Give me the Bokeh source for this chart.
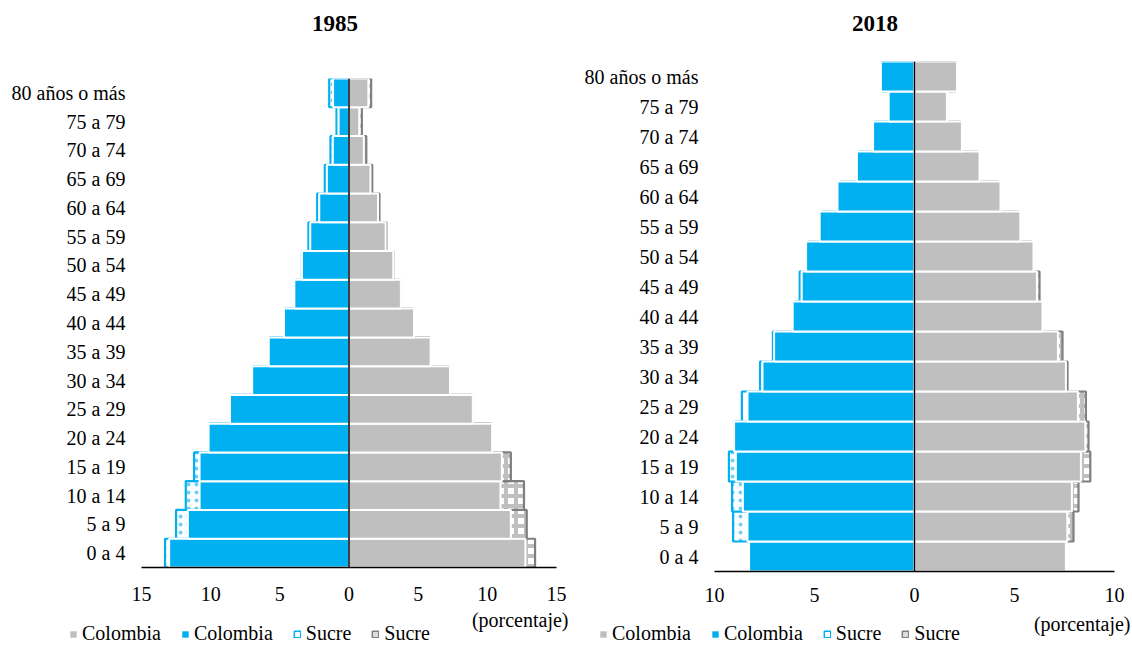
from bokeh.plotting import figure
from bokeh.layouts import row, column
from bokeh.models import (Range1d, FixedTicker, CustomJSTickFormatter, Span, Label,
                          Legend, LegendItem)
from bokeh.embed import file_html
from bokeh.resources import INLINE

age_groups = ["0 a 4", "5 a 9", "10 a 14", "15 a 19", "20 a 24", "25 a 29", "30 a 34",
              "35 a 39", "40 a 44", "45 a 49", "50 a 54", "55 a 59", "60 a 64", "65 a 69",
              "70 a 74", "75 a 79", "80 años o más"]

# 1985 (percent of population)
col_men_1985 = [13.0, 11.65, 10.8, 10.8, 10.15, 8.6, 7.0, 5.8, 4.7, 3.95, 3.4, 2.8, 2.15, 1.6, 1.17, 0.75, 1.15]
col_women_1985 = [12.75, 11.7, 10.95, 11.05, 10.35, 8.95, 7.3, 5.9, 4.7, 3.75, 3.2, 2.65, 2.1, 1.55, 1.07, 0.74, 1.4]
suc_men_1985 = [13.3, 12.5, 11.8, 11.2, 10.1, 8.55, 6.95, 5.75, 4.65, 3.9, 3.4, 2.93, 2.3, 1.75, 1.34, 0.9, 1.43]
suc_women_1985 = [13.45, 12.85, 12.65, 11.7, 10.3, 8.9, 7.25, 5.85, 4.65, 3.7, 3.2, 2.7, 2.2, 1.68, 1.25, 0.93, 1.6]

# 2018 (percent of population)
col_men_2018 = [8.27, 8.35, 8.58, 8.93, 9.02, 8.35, 7.6, 7.02, 6.09, 5.64, 5.42, 4.74, 3.85, 2.88, 2.07, 1.29, 1.68]
col_women_2018 = [7.57, 7.64, 7.87, 8.32, 8.54, 8.17, 7.57, 7.17, 6.4, 6.12, 5.95, 5.29, 4.3, 3.25, 2.37, 1.62, 2.13]
suc_men_2018 = [8.2, 9.07, 9.12, 9.28, 9.0, 8.63, 7.72, 7.08, 6.0, 5.74, 5.3, 4.6, 3.7, 2.8, 2.0, 1.25, 1.6]
suc_women_2018 = [7.5, 7.95, 8.2, 8.79, 8.7, 8.57, 7.65, 7.4, 6.35, 6.25, 5.85, 5.2, 4.2, 3.15, 2.3, 1.55, 2.05]

legend_labels = ["Colombia", "Colombia", "Sucre", "Sucre"]

FONT = "Liberation Serif"
BLUE = "#00B0F0"
GRAY = "#BFBFBF"
DARKGRAY = "#7F7F7F"

STYLES = {
    "suc_men": dict(fill_color="white", hatch_pattern=".", hatch_color="#6FD0F5",
                    hatch_scale=8, hatch_weight=2.5, line_color=BLUE, line_width=2.2),
    "suc_women": dict(fill_color="white", hatch_pattern="+", hatch_color=GRAY,
                      hatch_scale=10, hatch_weight=4, line_color=DARKGRAY, line_width=2.2),
    "col_men": dict(fill_color=BLUE, line_color="white", line_width=2),
    "col_women": dict(fill_color=GRAY, line_color="white", line_width=2),
}
LEGEND_STYLES = {
    "suc_men": dict(fill_color="white", line_color=BLUE, line_width=1.5),
    "suc_women": dict(fill_color="#DDDDDD", line_color=DARKGRAY, line_width=1.5),
    "col_men": dict(fill_color=BLUE, line_color=None),
    "col_women": dict(fill_color=GRAY, line_color=None),
}


def blank(width, height):
    f = figure(width=width, height=height, x_range=Range1d(0, width),
               y_range=Range1d(0, height), x_axis_location=None, y_axis_location=None,
               output_backend="svg", toolbar_location=None, min_border=0,
               frame_align=False)
    f.min_border_left = f.min_border_right = f.min_border_top = f.min_border_bottom = 0
    f.outline_line_color = None
    f.grid.visible = False
    f.background_fill_color = "white"
    f.border_fill_color = "white"
    return f


def title_fig(text, width, height, cx, cy):
    f = blank(width, height)
    f.add_layout(Label(x=cx, y=height - cy, text=text, text_font=FONT,
                       text_font_size="23px", text_font_style="bold",
                       text_align="center", text_baseline="middle", text_color="black"))
    return f


def legend_fig(width, height, porc_right, porc_cy, leg_x, leg_y):
    f = blank(width, height)
    f.add_layout(Label(x=porc_right, y=height - porc_cy, text="(porcentaje)", text_font=FONT,
                       text_font_size="20px", text_align="right", text_baseline="middle",
                       text_color="black"))
    # legend proxies: one swatch each, placed off the visible range
    rs = [f.rect(x=[-1000], y=[-1000], width=1, height=1, **LEGEND_STYLES[k])
          for k in ("col_women", "col_men", "suc_men", "suc_women")]
    legend = Legend(items=[LegendItem(label=lab, renderers=[r])
                           for lab, r in zip(legend_labels, rs)],
                    location=(leg_x, leg_y), orientation="horizontal",
                    glyph_width=8, glyph_height=8, label_standoff=5, spacing=20,
                    padding=0, margin=0, border_line_color=None,
                    background_fill_alpha=0, label_text_font=FONT,
                    label_text_font_size="20px", label_text_color="black",
                    label_height=20)
    f.add_layout(legend)
    return f


def pyramid(xmax, cm, cw, sm, sw, width, height, borders, tick_standoff):
    bl, br, bt, bb = borders
    p = figure(width=width, height=height,
               x_range=Range1d(-xmax, xmax), y_range=Range1d(-0.5, len(age_groups) - 0.5),
               output_backend="svg", toolbar_location=None, frame_align=False,
               min_border_left=bl, min_border_right=br, min_border_top=bt, min_border_bottom=bb)
    p.outline_line_color = None
    p.grid.visible = False
    p.background_fill_color = "white"
    p.border_fill_color = "white"

    ys = list(range(len(age_groups)))
    neg = lambda v: [-x for x in v]
    zeros = [0] * len(ys)

    p.hbar(y=ys, left=neg(sm), right=zeros, height=1.0, **STYLES["suc_men"])
    p.hbar(y=ys, left=zeros, right=sw, height=1.0, **STYLES["suc_women"])
    p.hbar(y=ys, left=neg(cm), right=zeros, height=1.0, **STYLES["col_men"])
    p.hbar(y=ys, left=zeros, right=cw, height=1.0, **STYLES["col_women"])

    p.add_layout(Span(location=0, dimension="height", line_color="black", line_width=1.5))

    xa = p.xaxis[0]
    xa.ticker = FixedTicker(ticks=list(range(-xmax, xmax + 1, 5)), minor_ticks=[])
    xa.formatter = CustomJSTickFormatter(code="return Math.abs(tick).toString();")
    xa.axis_line_color = "black"
    xa.axis_line_width = 1.5
    xa.major_tick_line_color = None
    xa.minor_tick_line_color = None
    xa.major_tick_in = 0
    xa.major_tick_out = 0
    xa.major_label_standoff = tick_standoff
    xa.major_label_text_font = FONT
    xa.major_label_text_font_size = "20px"
    xa.major_label_text_color = "black"

    ya = p.yaxis[0]
    ya.ticker = FixedTicker(ticks=ys, minor_ticks=[])
    ya.major_label_overrides = {i: g for i, g in enumerate(age_groups)}
    ya.axis_line_color = None
    ya.major_tick_line_color = None
    ya.minor_tick_line_color = None
    ya.major_tick_in = 0
    ya.major_tick_out = 0
    ya.major_label_standoff = 16
    ya.major_label_text_font = FONT
    ya.major_label_text_font_size = "20px"
    ya.major_label_text_color = "black"
    return p


# left block: x 0..576 ; right block: x 576..1132
t1 = title_fig("1985", 576, 40, 334.5, 23)
p1 = pyramid(15, col_men_1985, col_women_1985, suc_men_1985, suc_women_1985,
             width=576, height=569, borders=(141, 20, 38, 42), tick_standoff=19)
l1 = legend_fig(576, 36, 568, 10, 69, 0)

t2 = title_fig("2018", 556, 40, 298.5, 23)
p2 = pyramid(10, col_men_2018, col_women_2018, suc_men_2018, suc_women_2018,
             width=556, height=570, borders=(138, 18, 21, 39), tick_standoff=16)
l2 = legend_fig(556, 35, 554, 13, 23, 0)

layout = row(column(t1, p1, l1), column(t2, p2, l2))
open("out.html", "w").write(file_html(layout, INLINE))
